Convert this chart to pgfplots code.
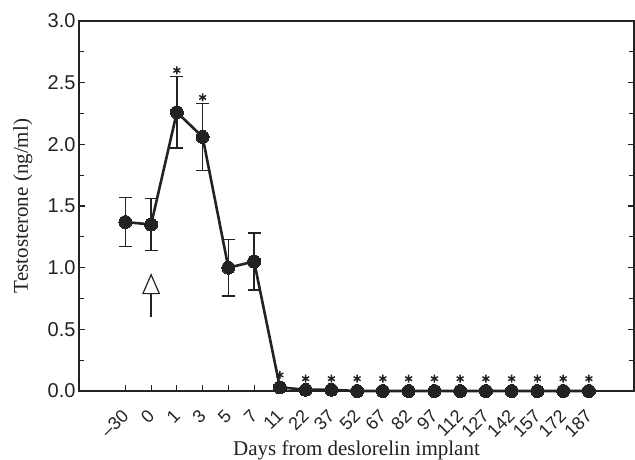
\documentclass[border=0pt]{standalone}
\usepackage{pgfplots}
\pgfplotsset{compat=1.18}
\usepackage{fontspec}
\setmainfont{Liberation Serif}
\newfontfamily\arial{Liberation Sans}
\usetikzlibrary{arrows.meta}
\definecolor{ink}{HTML}{222222}

\pgfplotstableread{
x y e
0 1.37 0.20
1 1.35 0.21
2 2.26 0.29
3 2.06 0.27
4 1.00 0.23
5 1.05 0.23
}\errdata

\pgfplotstableread{
x y
0 1.37
1 1.35
2 2.26
3 2.06
4 1.00
5 1.05
6 0.03
7 0.01
8 0.01
9 0.00
10 0.00
11 0.00
12 0.00
13 0.00
14 0.00
15 0.00
16 0.00
17 0.00
18 0.00
}\meandata

\pgfplotstableread{
x y
2 2.60
3 2.38
6 0.13
7 0.10
8 0.10
9 0.10
10 0.10
11 0.10
12 0.10
13 0.10
14 0.10
15 0.10
16 0.10
17 0.10
18 0.10
}\stardata

\begin{document}
\begin{tikzpicture}
\begin{axis}[
  at={(0,0)}, anchor=south west,
  scale only axis, width=555pt, height=370pt,
  xmin=-1.8, xmax=19.75, ymin=0, ymax=3,
  axis line style={line width=1.4pt, color=ink},
  xtick={0,...,18},
  xticklabels={–30,0,1,3,5,7,11,22,37,52,67,82,97,112,127,142,157,172,187},
  xtick pos=left,
  ytick={0,0.5,...,3.0},
  minor y tick num=1,
  ytick pos=both,
  tick align=inside,
  major tick length=6pt, minor tick length=5pt,
  tick style={line width=1.2pt, color=ink},
  /pgf/number format/assume math mode=true,
  yticklabel style={font=\arial\fontsize{20}{24}\selectfont, color=ink,
    /pgf/number format/.cd, fixed, fixed zerofill, precision=1},
  xticklabel style={font=\arial\fontsize{18}{21}\selectfont, color=ink,
    rotate=45, anchor=east, inner sep=0pt},
  xticklabel shift=22pt,
  xlabel={Days from deslorelin implant},
  ylabel={Testosterone (ng/ml)},
  label style={font=\fontsize{21}{25}\selectfont, color=ink},
  xlabel style={at={(axis description cs:0.5,-0.173)}, anchor=base},
  ylabel style={at={(axis description cs:-0.092,0.5)}, anchor=base},
  clip=false,
]
\addplot[draw=none, mark=none, color=ink,
  error bars/.cd, y dir=both, y explicit,
  error bar style={line width=1.3pt, color=ink},
  error mark options={rotate=90, mark size=6.5pt, line width=1.3pt, color=ink}]
  table[x=x, y=y, y error=e] {\errdata};
\addplot[color=ink, line width=2.6pt, mark=*, mark size=6.5pt,
  mark options={fill=ink, line width=0pt}]
  table[x=x, y=y] {\meandata};
\addplot[only marks, mark=asterisk, mark size=4pt,
  mark options={line width=1.4pt, color=ink}]
  table[x=x, y=y] {\stardata};
\draw[color=ink, line width=1.3pt,
  -{Triangle[open, length=21pt, width=18pt, line width=1.2pt]}]
  (axis cs:1,0.60) -- (axis cs:1,0.955);
\end{axis}
\pgfresetboundingbox
\path[use as bounding box] (-79pt,-68pt) rectangle (556pt,391pt);
\end{tikzpicture}
\end{document}
